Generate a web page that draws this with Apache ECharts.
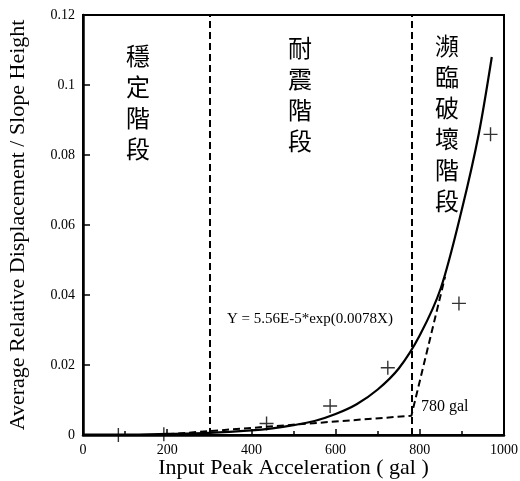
<!DOCTYPE html>
<html>
<head>
<meta charset="utf-8">
<script src="https://cdn.jsdelivr.net/npm/echarts@6/dist/echarts.min.js"></script>
<style>html,body{margin:0;padding:0;background:#fff}#c{width:520px;height:481px}</style>
</head>
<body>
<div id="c"></div>
<script>
// Measured data points (+)
var obsX = [84, 192, 436, 587, 724, 893, 968];
var obsY = [0.0000, 0.0002, 0.0033, 0.0083, 0.0192, 0.0376, 0.0859];
// Fitted exponential curve
var fitX = [0, 100, 200, 300, 400, 450, 500, 550, 600, 650, 700, 750, 800, 850, 900, 940, 971];
var fitY = [0.0001, 0.0001, 0.0003, 0.0006, 0.0013, 0.0019, 0.0028, 0.0040, 0.0060, 0.0088, 0.0130, 0.0190, 0.0285, 0.0420, 0.0645, 0.0860, 0.1080];
// Bilinear dashed trend
var trendX = [200, 780, 860];
var trendY = [0.0002, 0.0055, 0.0452];
// Stage boundaries (gal)
var boundaries = [300, 780];
var stageNames = ['穩定階段', '耐震階段', '瀕臨破壞階段'];
var xTicks = [0, 200, 400, 600, 800, 1000];
var yTicks = [0, 0.02, 0.04, 0.06, 0.08, 0.1, 0.12];
var eqText = 'Y = 5.56E-5*exp(0.0078X)';
var breakText = '780 gal';

function zip(a, b) { return a.map(function (v, i) { return [v, b[i]]; }); }

var serif = '"Liberation Serif", "DejaVu Serif", serif';
var cjk = '"Noto Sans CJK TC", "Noto Sans CJK SC", sans-serif';

var chart = echarts.init(document.getElementById('c'));
chart.setOption({
  animation: false,
  backgroundColor: '#fff',
  grid: { left: 83, right: 16, top: 15, bottom: 46, containLabel: false, outerBoundsMode: 'none', show: true, borderColor: '#000', borderWidth: 2, backgroundColor: 'transparent' },
  xAxis: {
    type: 'value', min: xTicks[0], max: xTicks[xTicks.length - 1], interval: 200,
    name: 'Input Peak Acceleration ( gal )', nameLocation: 'middle', nameGap: 22, nameMoveOverlap: false,
    nameTextStyle: { fontFamily: serif, fontSize: 22, color: '#000' },
    axisLine: { show: true, lineStyle: { color: '#000', width: 2.5 } },
    axisTick: { show: true, inside: true, length: 6, lineStyle: { color: '#000', width: 1.5 } },
    minorTick: { show: true, splitNumber: 2, length: 4, lineStyle: { color: '#000', width: 1.5 } },
    axisLabel: { fontFamily: serif, fontSize: 14, color: '#000', margin: 8, formatter: function (v) { return String(v); } },
    splitLine: { show: false }
  },
  yAxis: {
    type: 'value', min: yTicks[0], max: yTicks[yTicks.length - 1], interval: 0.02,
    name: 'Average Relative Displacement / Slope Height', nameLocation: 'middle', nameGap: 54, nameMoveOverlap: false,
    nameTextStyle: { fontFamily: serif, fontSize: 22, color: '#000' },
    axisLine: { show: true, lineStyle: { color: '#000', width: 2.5 } },
    axisTick: { show: true, inside: true, length: 7, lineStyle: { color: '#000', width: 1.5 } },
    axisLabel: { fontFamily: serif, fontSize: 14, color: '#000', margin: 8, formatter: function (v) { return String(+v.toFixed(4)); } },
    splitLine: { show: false }
  },
  series: [
    {
      type: 'line', data: zip(fitX, fitY), smooth: 0.3, showSymbol: false, symbol: 'none',
      lineStyle: { color: '#000', width: 2.2 }, z: 3,
      markLine: {
        silent: true, symbol: 'none', label: { show: false },
        lineStyle: { color: '#000', width: 2, type: [7, 4] },
        data: boundaries.map(function (b) { return { xAxis: b }; })
      }
    },
    {
      type: 'line', data: zip(trendX, trendY), showSymbol: false, symbol: 'none',
      lineStyle: { color: '#000', width: 2, type: [7, 4] }, z: 2
    },
    {
      type: 'scatter', data: zip(obsX, obsY), symbol: 'path://M0,5 L10,5 M5,0 L5,10', symbolSize: 14,
      itemStyle: { color: 'transparent', borderColor: '#000', borderWidth: 1.4 }, z: 4
    }
  ],
  graphic: [
    { type: 'text', left: 126, top: 40, style: { text: stageNames[0].split('').join('\n'), font: '24px ' + cjk, lineHeight: 31, fill: '#000' } },
    { type: 'text', left: 288, top: 32, style: { text: stageNames[1].split('').join('\n'), font: '24px ' + cjk, lineHeight: 31, fill: '#000' } },
    { type: 'text', left: 435, top: 30, style: { text: stageNames[2].split('').join('\n'), font: '24px ' + cjk, lineHeight: 31, fill: '#000' } },
    { type: 'text', left: 227, top: 312, style: { text: eqText, font: '15px ' + serif, fill: '#000' } },
    { type: 'text', left: 421, top: 399, style: { text: breakText, font: '16px ' + serif, fill: '#000' } }
  ]
});
</script>
</body>
</html>
